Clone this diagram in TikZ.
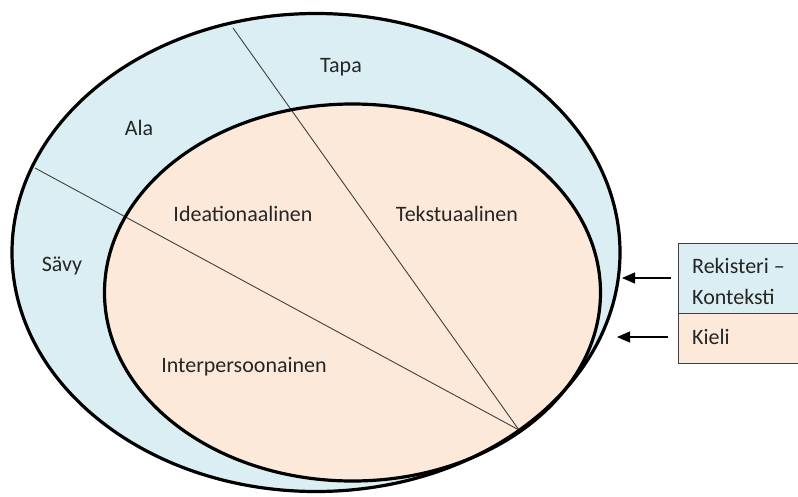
\documentclass[tikz,border=0pt]{standalone}
\usepackage{fontspec}
\setmainfont{Carlito}
\usetikzlibrary{arrows.meta}
\definecolor{regblue}{HTML}{DAEEF3}
\definecolor{langpeach}{HTML}{FDE9D9}
\definecolor{txtgray}{HTML}{262626}
\definecolor{boxgray}{HTML}{404040}
\tikzset{
  ring/.style={line width=3.2pt, draw=black},
  divider/.style={line width=0.9pt, draw=black!75},
  lbl/.style={font=\fontsize{22}{26}\selectfont, text=txtgray, inner sep=0pt},
  legendbox/.style={draw=boxgray, line width=1pt},
  legendtxt/.style={lbl, anchor=west},
  pointer/.style={line width=1.1pt, -{Triangle[length=13pt,width=11pt]}}
}
\begin{document}
\begin{tikzpicture}[x=1pt,y=-1pt]
\useasboundingbox (0,0) rectangle (798,496);
% context (register) and language ellipses
\fill[regblue] (316,252.5) ellipse [x radius=304pt, y radius=239pt];
\fill[langpeach] (352.5,292.5) ellipse [x radius=248pt, y radius=188.5pt];
% meeting point of the three sectors
\coordinate (hub) at (519,430);
\coordinate (topcut) at (233,28);
\coordinate (leftcut) at (35,168);
\draw[divider] (topcut) -- (hub);
\draw[divider] (leftcut) -- (hub);
\draw[ring] (316,252.5) ellipse [x radius=304pt, y radius=239pt];
\draw[ring] (352.5,292.5) ellipse [x radius=248pt, y radius=188.5pt];
% sector labels
\node[lbl] (tapa) at (341,67) {Tapa};
\node[lbl] (ala) at (139,128) {Ala};
\node[lbl] (savy) at (62,266) {Sävy};
\node[lbl] (idea) at (243,214) {Ideationaalinen};
\node[lbl] (teks) at (457,214) {Tekstuaalinen};
\node[lbl] (inter) at (244,367) {Interpersoonainen};
% legend
\fill[regblue] (678,243) rectangle (810,313);
\fill[langpeach] (678,313) rectangle (810,363);
\draw[legendbox] (678,243) rectangle (810,363);
\draw[legendbox] (678,313) -- (810,313);
\node[legendtxt] (reg1) at (692,266) {Rekisteri –};
\node[legendtxt] (reg2) at (692,297) {Konteksti};
\node[legendtxt] (kieli) at (692,337) {Kieli};
\coordinate (a1s) at (671,278);
\coordinate (a1e) at (622,278);
\coordinate (a2s) at (668,337);
\coordinate (a2e) at (617,337);
\draw[pointer] (a1s) -- (a1e);
\draw[pointer] (a2s) -- (a2e);
\end{tikzpicture}
\end{document}
